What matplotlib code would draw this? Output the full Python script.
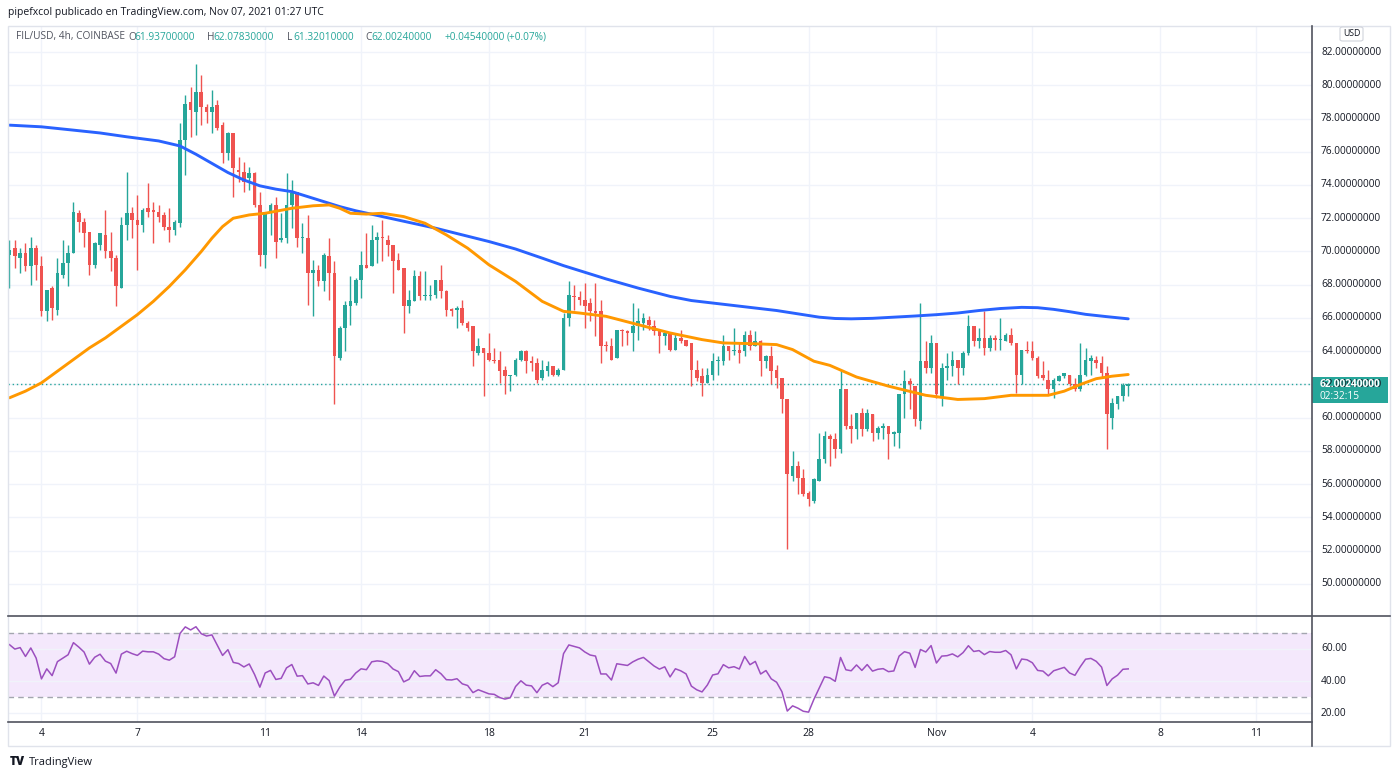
import matplotlib
matplotlib.use("Agg")
import matplotlib.pyplot as plt
from matplotlib.patches import Rectangle, FancyBboxPatch

plt.rcParams['font.family'] = ['Open Sans', 'DejaVu Sans']

# ---- data: FIL/USD 4h candles, Oct 3 00:00 .. Nov 7 00:00 (UTC) ----
opens = [69.8, 70.2, 69.6, 69.9, 69.1, 70.2, 69.1, 66.4, 67.8, 66.5,
         68.6, 69.3, 69.9, 72.3, 71.8, 71.2, 69.2, 70.4, 71.0, 70.0,
         69.6, 67.8, 71.6, 72.3, 71.9, 71.6, 72.6, 72.5, 72.4, 72.2,
         71.5, 71.3, 71.7, 76.7, 79.0, 78.4, 79.6, 78.7, 78.4, 78.8,
         77.6, 75.9, 77.1, 74.9, 74.8, 74.4, 74.7, 72.8, 69.8, 72.3,
         72.8, 70.7, 70.8, 72.8, 73.6, 70.8, 70.8, 68.7, 68.9, 68.2,
         69.7, 68.7, 63.6, 65.4, 66.7, 66.9, 68.3, 69.2, 69.1, 70.7,
         70.9, 70.7, 70.4, 69.5, 69.0, 66.7, 67.0, 68.5, 67.3, 67.3,
         67.4, 68.3, 67.6, 66.55, 66.5, 66.6, 65.7, 65.5, 63.9, 64.2,
         63.9, 63.5, 63.5, 62.9, 62.5, 62.6, 63.5, 64.0, 63.4, 63.3,
         62.4, 62.8, 63.1, 62.6, 62.9, 66.0, 67.35, 67.25, 67.1, 66.9,
         66.4, 66.4, 64.35, 64.3, 63.6, 65.3, 65.2, 65.1, 65.5, 65.7,
         65.9, 65.5, 65.2, 64.9, 65.1, 64.1, 64.8, 64.7, 64.5, 62.9,
         62.5, 62.1, 62.6, 63.4, 63.4, 64.3, 64.0, 64.1, 64.0, 65.0,
         64.3, 64.6, 63.4, 63.7, 62.9, 62.4, 61.1, 56.5, 57.1, 56.4,
         55.5, 55.0, 56.2, 57.5, 58.9, 58.7, 58.1, 61.7, 59.5, 59.3,
         60.3, 59.3, 60.2, 59.1, 59.4, 59.5, 59.05, 59.1, 61.4, 62.2,
         61.9, 59.8, 63.4, 63.0, 64.5, 61.2, 63.0, 63.1, 63.5, 63.0,
         63.9, 65.5, 64.6, 64.8, 64.2, 64.8, 64.65, 64.6, 65.0, 64.5,
         62.6, 64.1, 64.0, 63.6, 62.6, 62.3, 61.7, 62.2, 62.5, 62.6,
         62.0, 61.7, 62.6, 63.4, 63.5, 63.3, 62.7, 60.0, 60.8, 61.3,
         61.937]
highs = [70.7, 70.7, 70.2, 70.5, 70.9, 70.4, 69.7, 67.7, 67.9, 69.6,
         70.7, 70.4, 73.0, 72.5, 72.0, 71.2, 70.6, 71.1, 72.5, 71.2,
         69.8, 72.1, 74.8, 72.7, 73.4, 72.6, 74.1, 73.0, 72.8, 72.4,
         72.6, 71.9, 77.7, 79.4, 79.9, 81.3, 80.6, 78.9, 79.7, 79.1,
         77.8, 77.2, 77.1, 75.7, 75.4, 75.1, 74.8, 73.6, 72.4, 72.9,
         73.3, 72.3, 74.7, 74.3, 73.6, 71.7, 72.2, 69.5, 69.2, 69.9,
         70.8, 69.4, 65.5, 67.0, 68.5, 68.4, 70.0, 71.1, 71.6, 71.2,
         71.9, 71.0, 70.4, 69.9, 69.0, 67.7, 68.9, 68.8, 68.8, 68.0,
         68.3, 69.2, 67.7, 66.6, 66.7, 67.1, 65.8, 65.5, 64.8, 64.2,
         65.1, 64.2, 64.0, 63.1, 62.6, 63.6, 64.1, 64.1, 63.7, 63.6,
         63.5, 63.4, 63.1, 63.0, 66.3, 68.2, 68.0, 67.6, 68.1, 67.2,
         68.1, 67.1, 64.6, 64.8, 65.3, 65.35, 65.3, 66.9, 66.6, 66.3,
         66.1, 65.9, 65.3, 65.2, 65.15, 65.1, 65.3, 64.7, 64.5, 63.5,
         63.0, 63.0, 63.9, 63.7, 65.0, 64.3, 65.4, 64.5, 65.2, 65.3,
         65.2, 64.7, 63.8, 64.3, 63.2, 62.4, 61.1, 58.0, 57.4, 56.9,
         55.6, 56.4, 59.1, 59.2, 59.0, 59.1, 62.9, 61.7, 60.2, 60.3,
         60.6, 60.5, 60.2, 59.5, 59.7, 59.5, 59.2, 61.4, 62.9, 62.4,
         61.9, 66.9, 64.6, 65.0, 64.5, 63.3, 63.9, 64.0, 63.5, 64.0,
         66.2, 65.5, 65.4, 66.4, 65.0, 65.0, 66.0, 65.1, 65.4, 64.5,
         64.1, 64.6, 64.6, 63.7, 63.4, 62.9, 62.4, 62.6, 62.7, 62.6,
         62.4, 64.5, 64.2, 63.8, 63.7, 63.7, 63.1, 61.2, 61.3, 62.1,
         62.0783]
lows = [67.8, 69.0, 68.7, 68.8, 68.0, 68.3, 66.1, 65.8, 65.9, 66.2,
        68.4, 67.9, 69.9, 71.2, 70.3, 68.6, 69.0, 70.1, 69.6, 68.8,
        66.7, 67.8, 70.7, 70.8, 68.9, 71.2, 72.1, 70.5, 71.8, 71.3,
        70.6, 71.0, 71.5, 74.6, 76.9, 77.0, 77.6, 77.7, 77.1, 77.3,
        75.3, 75.5, 73.3, 74.2, 73.6, 73.7, 72.7, 69.1, 69.0, 71.0,
        69.6, 70.6, 70.5, 71.4, 70.3, 69.9, 66.8, 66.1, 67.9, 67.6,
        67.1, 60.8, 63.5, 64.0, 65.6, 66.8, 67.2, 69.0, 69.1, 69.3,
        69.4, 69.7, 67.5, 68.9, 65.1, 66.3, 67.0, 67.1, 67.1, 67.1,
        67.2, 67.2, 66.1, 66.1, 65.4, 65.6, 65.2, 63.1, 63.8, 61.3,
        63.4, 63.3, 62.1, 61.4, 61.6, 62.5, 63.4, 62.7, 62.8, 62.1,
        62.3, 62.5, 62.5, 62.5, 62.9, 65.5, 66.5, 66.8, 65.4, 65.8,
        64.9, 63.3, 64.0, 63.5, 63.6, 64.3, 64.4, 64.0, 64.7, 65.3,
        65.3, 65.0, 63.9, 64.4, 64.0, 64.1, 64.5, 64.3, 61.9, 62.2,
        61.3, 62.1, 62.3, 62.6, 63.2, 63.5, 63.8, 63.3, 63.7, 64.1,
        64.3, 62.5, 63.0, 62.0, 61.8, 60.3, 52.1, 56.2, 55.4, 55.3,
        54.7, 54.9, 56.2, 57.3, 57.1, 57.6, 57.9, 59.3, 58.5, 58.7,
        58.9, 59.2, 58.6, 58.7, 58.7, 57.5, 58.3, 58.2, 60.0, 60.5,
        59.5, 59.3, 62.7, 62.7, 61.2, 60.7, 62.3, 62.5, 62.0, 62.6,
        63.8, 64.3, 64.2, 63.8, 64.0, 64.1, 64.1, 64.6, 64.4, 61.5,
        62.0, 63.9, 63.5, 62.4, 62.3, 61.4, 61.2, 62.2, 62.4, 61.9,
        61.6, 61.6, 62.5, 62.6, 63.0, 62.4, 58.1, 59.3, 60.5, 61.0,
        61.3201]
closes = [70.1, 69.7, 69.9, 69.1, 70.2, 69.2, 66.4, 67.7, 66.6, 68.7,
          69.3, 69.9, 72.4, 71.8, 71.1, 69.2, 70.5, 71.1, 70.0, 69.6,
          67.9, 71.6, 72.3, 71.9, 71.6, 72.5, 72.4, 72.4, 72.1, 71.5,
          71.3, 71.8, 76.7, 78.9, 78.5, 79.6, 78.7, 78.4, 78.7, 77.4,
          75.9, 77.1, 75.0, 74.8, 74.2, 74.7, 72.8, 69.8, 72.3, 72.8,
          70.6, 70.8, 72.8, 73.5, 70.8, 70.9, 68.7, 68.9, 68.2, 69.8,
          68.7, 63.7, 65.4, 66.8, 67.0, 68.3, 69.2, 69.0, 70.7, 70.9,
          70.8, 70.4, 69.4, 68.9, 66.7, 67.1, 68.5, 67.3, 67.4, 67.4,
          68.3, 67.6, 66.5, 66.45, 66.6, 65.7, 65.4, 64.0, 64.3, 63.9,
          63.5, 63.4, 62.8, 62.5, 62.6, 63.5, 64.0, 63.4, 63.3, 62.3,
          62.9, 63.1, 62.6, 62.9, 66.0, 67.4, 67.25, 67.1, 66.7, 66.4,
          66.3, 64.3, 64.3, 63.5, 65.3, 65.2, 65.1, 65.5, 65.8, 66.0,
          65.6, 65.2, 64.9, 65.1, 64.1, 64.8, 64.6, 64.3, 62.9, 62.4,
          62.1, 62.6, 63.4, 63.5, 64.3, 64.0, 64.1, 63.9, 65.0, 64.3,
          64.6, 63.4, 63.7, 62.8, 62.4, 61.1, 56.6, 57.1, 56.4, 55.4,
          55.1, 56.3, 57.5, 58.9, 58.7, 58.1, 61.7, 59.5, 59.3, 60.3,
          59.3, 60.3, 59.1, 59.4, 59.5, 59.0, 59.1, 61.4, 62.2, 62.0,
          59.9, 63.4, 63.0, 64.5, 61.4, 63.0, 63.1, 63.5, 63.0, 63.9,
          65.5, 64.6, 64.8, 64.2, 64.8, 64.7, 64.7, 65.0, 64.5, 62.6,
          64.1, 64.0, 63.6, 62.5, 62.4, 61.7, 62.3, 62.5, 62.7, 62.0,
          61.7, 62.6, 63.5, 63.6, 63.3, 62.7, 60.2, 60.9, 61.3, 61.957,
          62.0024]

# moving averages at candle positions
slow_idx = [0, 6, 12, 17, 22, 28, 32, 35, 38, 41, 44, 47, 50, 53, 56, 59, 62,
            65, 70, 75, 80, 85, 90, 95, 100, 104, 108, 112, 118, 124, 128, 132,
            136, 140, 144, 148, 152, 155, 158, 162, 166, 170, 174, 178, 182,
            186, 190, 193, 196, 199, 202, 206, 210]
ma_slow = [77.6, 77.5, 77.3, 77.13, 76.9, 76.65, 76.35, 75.85, 75.3, 74.75,
           74.3, 73.95, 73.75, 73.6, 73.3, 73.0, 72.7, 72.45, 72.1, 71.75,
           71.4, 71.0, 70.6, 70.15, 69.6, 69.15, 68.75, 68.35, 67.8, 67.3,
           67.05, 66.9, 66.75, 66.6, 66.45, 66.25, 66.05, 65.97, 65.95,
           65.98, 66.05, 66.12, 66.2, 66.3, 66.45, 66.57, 66.64, 66.62,
           66.52, 66.38, 66.22, 66.08, 65.95]
fast_idx = [0, 3, 6, 9, 12, 15, 18, 21, 24, 27, 30, 33, 36, 38, 40, 42, 45,
            48, 53, 57, 60, 62, 64, 67, 70, 74, 78, 82, 86, 90, 95, 100, 104,
            107, 112, 118, 124, 130, 134, 140, 144, 147, 151, 154, 159, 165,
            172, 178, 183, 188, 195, 198, 201, 204, 207, 210]
ma_fast = [61.2, 61.6, 62.1, 62.8, 63.5, 64.2, 64.8, 65.5, 66.2, 67.0, 67.9,
           68.9, 70.0, 70.8, 71.5, 72.0, 72.2, 72.3, 72.6, 72.75, 72.8, 72.6,
           72.3, 72.25, 72.3, 72.1, 71.7, 71.0, 70.2, 69.2, 68.2, 67.0, 66.4,
           66.3, 66.1, 65.6, 65.1, 64.7, 64.5, 64.45, 64.4, 64.1, 63.4, 63.15,
           62.45, 61.9, 61.35, 61.1, 61.15, 61.35, 61.35, 61.6, 62.0, 62.35,
           62.5, 62.6]

day_ticks = [6, 24, 48, 66, 90, 108, 132, 150, 174, 192, 216, 234]
day_labels = ['4', '7', '11', '14', '18', '21', '25', '28', 'Nov', '4', '8', '11']
price_ticks = list(range(50, 83, 2))
rsi_ticks = [20, 40, 60]

countdown = '02:32:15'
rsi_period = 14
rsi_seed = (0.42, 0.25)   # avg gain / avg loss carried in from before the window

UP = '#26a69a'
DOWN = '#ef5350'
GRID = '#f0f3fa'
TXT = '#131722'
W, H = 1400, 778
Y0, Y1 = 48.135, 83.564
R0, R1 = 14.6, 80.5
X0, X1 = -0.28, 244.5


def wilder_rsi(c, period, seed):
    ag, al = seed
    out = [100 - 100 / (1 + ag / al)]
    for prev, cur in zip(c[:-1], c[1:]):
        ch = cur - prev
        ag = (ag * (period - 1) + max(ch, 0)) / period
        al = (al * (period - 1) + max(-ch, 0)) / period
        out.append(100 - 100 / (1 + ag / al))
    return out


def fx(x):
    return x / W


def fy(y):
    return 1 - y / H


fig = plt.figure(figsize=(14, 7.78), dpi=100)
fig.patch.set_facecolor('white')

ax = fig.add_axes([fx(8), fy(615), fx(1304), 589 / H])
ax_r = fig.add_axes([fx(8), fy(722), fx(1304), 106 / H], sharex=ax)

n = len(closes)
idx = list(range(n))

# ---- price pane ----
for t in price_ticks:
    ax.axhline(t, color=GRID, lw=1, zorder=0)
for t in day_ticks:
    ax.axvline(t, color=GRID, lw=1, zorder=0)
    ax_r.axvline(t, color=GRID, lw=1, zorder=0)

cols = [UP if c >= o else DOWN for o, c in zip(opens, closes)]
ax.vlines(idx, lows, highs, colors=cols, lw=1, zorder=2)
bottoms = [min(o, c) for o, c in zip(opens, closes)]
heights = [max(abs(c - o), 0.07) for o, c in zip(opens, closes)]
ax.bar(idx, heights, bottom=bottoms, width=0.68, color=cols, lw=0, zorder=3)

ax.plot(slow_idx, ma_slow, color='#2962ff', lw=2.1, zorder=4,
        solid_capstyle='round', solid_joinstyle='round')
ax.plot(fast_idx, ma_fast, color='#ff9800', lw=2.1, zorder=4,
        solid_capstyle='round', solid_joinstyle='round')
ax.axhline(closes[-1], color=UP, lw=1, ls=(0, (1, 2)), zorder=1)

ax.set_xlim(X0, X1)
ax.set_ylim(Y0, Y1)

# ---- RSI pane ----
rsi = wilder_rsi(closes, rsi_period, rsi_seed)
ax_r.axhspan(30, 70, color='#f4e8fc', lw=0, zorder=0)
for t in rsi_ticks:
    ax_r.axhline(t, color=GRID, lw=1, zorder=0.5)
ax_r.axhline(70, color='#a3a6af', lw=1, ls=(0, (4, 3)), zorder=1)
ax_r.axhline(30, color='#a3a6af', lw=1, ls=(0, (4, 3)), zorder=1)
ax_r.plot(idx, rsi, color='#9c4fbf', lw=1.1, zorder=3)
ax_r.set_ylim(R0, R1)

for a in (ax, ax_r):
    a.set_xticks([])
    a.set_yticks([])
    for s in a.spines.values():
        s.set_visible(False)
    a.patch.set_alpha(0)

# frame lines
fig.add_artist(Rectangle((fx(8), fy(746)), fx(1382), 720 / H, transform=fig.transFigure,
                         fill=False, ec='#e0e3eb', lw=1))
fig.add_artist(plt.Line2D([fx(8), fx(1390)], [fy(615.5), fy(615.5)], color='#50535e', lw=1.2))
fig.add_artist(plt.Line2D([fx(8), fx(1312)], [fy(722), fy(722)], color='#50535e', lw=1.2))
fig.add_artist(plt.Line2D([fx(1312), fx(1312)], [fy(26), fy(746)], color='#50535e', lw=1.2))

# right price scale
for t in price_ticks:
    ypx = 615 - (t - Y0) / (Y1 - Y0) * 589
    fig.text(fx(1321), fy(ypx), f'{t:.8f}', fontsize=7.3, color=TXT, va='center', ha='left')
for t in rsi_ticks:
    ypx = 722 - (t - R0) / (R1 - R0) * 106
    fig.text(fx(1321), fy(ypx), f'{t:.2f}', fontsize=7.3, color=TXT, va='center', ha='left')

# last price tag
ytag = 615 - (closes[-1] - Y0) / (Y1 - Y0) * 589
fig.add_artist(Rectangle((fx(1312), fy(ytag + 19)), fx(76), 26 / H, transform=fig.transFigure,
                         color=UP, lw=0))
fig.text(fx(1320), fy(ytag), f'{closes[-1]:.8f}', fontsize=7.3, color='white',
         va='center', ha='left', fontweight='bold')
fig.text(fx(1320), fy(ytag + 12), countdown, fontsize=7.3, color='white', va='center', ha='left')

# USD box
fig.add_artist(FancyBboxPatch((fx(1340), fy(41)), fx(23), 14 / H, transform=fig.transFigure,
                              boxstyle='round,pad=0,rounding_size=0.002', fc='white',
                              ec='#d1d4dc', lw=0.8))
fig.text(fx(1351.5), fy(34), 'USD', fontsize=6.3, color=TXT, ha='center', va='center')

# time scale
for t, lab in zip(day_ticks, day_labels):
    xpx = 8 + (t - X0) / (X1 - X0) * 1304
    fig.text(fx(xpx), fy(733), lab, fontsize=7.5, color=TXT, ha='center', va='center')

# header + legend
fig.text(fx(8), fy(13), 'pipefxcol publicado en TradingView.com, Nov 07, 2021 01:27 UTC',
         fontsize=7.5, color=TXT, va='center', ha='left')
fig.text(fx(16), fy(37), 'FIL/USD, 4h, COINBASE', fontsize=7.3, color='#50535e', va='center')
legend_parts = [(128, 'O', opens[-1]), (207, 'H', highs[-1]),
                (287, 'L', lows[-1]), (365, 'C', closes[-1])]
for xpx, letter, val in legend_parts:
    fig.text(fx(xpx), fy(37), letter, fontsize=7.3, color='#50535e', va='center')
    fig.text(fx(xpx + 6.5), fy(37), f'{val:.8f}', fontsize=7.3, color=UP, va='center')
chg = closes[-1] - closes[-2]
fig.text(fx(445), fy(37), f'+{chg:.8f}', fontsize=7.3, color=UP, va='center')
fig.text(fx(507), fy(37), f'(+{chg / closes[-2] * 100:.2f}%)', fontsize=7.3, color=UP, va='center')

# footer logo
fig.text(fx(10), fy(762), 'TV', fontsize=8.5, color=TXT, fontweight='heavy', va='center')
fig.text(fx(29), fy(762), 'TradingView', fontsize=8, color=TXT, va='center')

fig.savefig('out.png', dpi=100, facecolor='white')
